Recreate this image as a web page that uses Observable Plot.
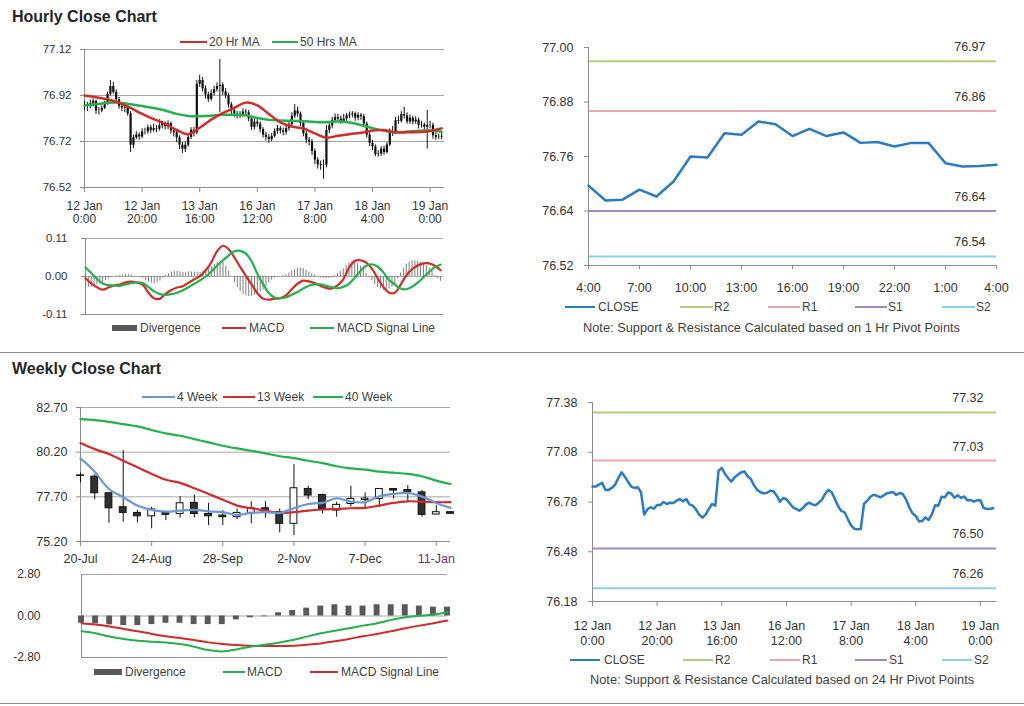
<!DOCTYPE html>
<html><head><meta charset="utf-8">
<script src="https://cdn.jsdelivr.net/npm/d3@7"></script>
<script src="https://cdn.jsdelivr.net/npm/@observablehq/plot@0.6"></script>
<style>
body{margin:0;background:#fff;font-family:'Liberation Sans',Arial,Helvetica,sans-serif;color:#404040}
#page{position:relative;width:1024px;height:706px;overflow:hidden;background:#fff}
.title{position:absolute;font-weight:bold;font-size:16px;line-height:19px;color:#262626;white-space:nowrap}
.sep{position:absolute;left:0;width:1024px;height:1px;background:#8c8c8c}
.leg{position:absolute;font-size:12px;line-height:14px;color:#404040;white-space:nowrap}
.note{position:absolute;font-size:12.8px;line-height:14px;color:#404040;white-space:nowrap}
</style></head><body><div id="page"></div><script>
// ---------------- DATA ----------------
// Hourly series (12 Jan 0:00 .. 19 Jan 4:00), one value per trading hour
const hourlyClose = [
76.873,76.873,76.885,76.895,76.853,76.853,76.865,76.885,76.925,76.959,
76.933,76.901,76.873,76.865,76.869,76.840,76.704,76.736,76.748,76.740,
76.762,76.762,76.780,76.768,76.776,76.774,76.788,76.798,76.784,76.798,
76.766,76.758,76.736,76.704,76.686,76.704,76.738,76.768,76.758,76.969,
76.985,76.949,76.923,76.903,76.929,76.945,76.959,76.965,76.935,76.919,
76.879,76.853,76.839,76.832,76.836,76.848,76.845,76.818,76.782,76.804,
76.796,76.772,76.748,76.738,76.728,76.742,76.764,76.776,76.766,76.760,
76.776,76.794,76.830,76.853,76.839,76.798,76.754,76.726,76.718,76.677,
76.639,76.619,76.615,76.617,76.768,76.788,76.812,76.824,76.818,76.808,
76.818,76.832,76.836,76.840,76.822,76.834,76.828,76.796,76.748,76.712,
76.696,76.663,76.665,76.687,76.672,76.705,76.760,76.758,76.811,76.808,
76.837,76.831,76.805,76.821,76.805,76.813,76.790,76.792,76.782,76.790,
76.790,76.745,76.738,76.739,76.742];
const hourlyHigh = [
76.895,76.890,76.900,76.905,76.900,76.868,76.875,76.895,76.935,76.985,
76.978,76.945,76.912,76.885,76.882,76.885,76.850,76.748,76.762,76.758,
76.775,76.778,76.792,76.790,76.795,76.790,76.815,76.808,76.805,76.810,
76.805,76.775,76.765,76.745,76.715,76.718,76.748,76.780,76.782,76.985,
77.008,76.998,76.962,76.935,76.945,76.960,76.975,77.076,76.975,76.950,
76.930,76.890,76.862,76.850,76.850,76.862,76.860,76.855,76.828,76.818,
76.815,76.805,76.780,76.760,76.750,76.755,76.775,76.790,76.785,76.778,
76.790,76.810,76.845,76.881,76.870,76.848,76.805,76.765,76.738,76.728,
76.688,76.650,76.635,76.640,76.790,76.805,76.825,76.840,76.838,76.830,
76.838,76.842,76.848,76.850,76.848,76.845,76.842,76.838,76.805,76.760,
76.725,76.705,76.680,76.698,76.700,76.715,76.775,76.785,76.825,76.830,
76.850,76.869,76.845,76.835,76.830,76.828,76.822,76.808,76.800,76.855,
76.808,76.800,76.758,76.752,76.755];
const hourlyLow = [
76.855,76.850,76.862,76.870,76.838,76.835,76.845,76.858,76.878,76.918,
76.925,76.890,76.860,76.850,76.845,76.830,76.672,76.690,76.728,76.725,
76.732,76.748,76.752,76.755,76.760,76.758,76.765,76.775,76.770,76.772,
76.752,76.740,76.715,76.685,76.668,76.672,76.695,76.728,76.740,76.750,
76.955,76.935,76.905,76.890,76.895,76.918,76.935,76.845,76.920,76.905,
76.865,76.838,76.825,76.818,76.820,76.825,76.830,76.805,76.768,76.770,
76.782,76.758,76.735,76.722,76.712,76.718,76.735,76.752,76.752,76.745,
76.748,76.765,76.785,76.820,76.825,76.785,76.740,76.710,76.700,76.660,
76.620,76.600,76.595,76.556,76.605,76.755,76.775,76.800,76.802,76.795,
76.798,76.808,76.820,76.822,76.808,76.810,76.812,76.780,76.735,76.698,
76.680,76.655,76.652,76.655,76.660,76.665,76.698,76.742,76.750,76.795,
76.800,76.818,76.795,76.795,76.792,76.795,76.775,76.778,76.770,76.687,
76.775,76.730,76.725,76.728,76.728];
// moving averages read every 4 hours
const ma20H = [76.920,76.912,76.904,76.888,76.866,76.840,76.817,76.798,76.770,76.752,76.780,76.815,76.843,76.866,76.889,76.877,76.840,76.803,76.785,76.777,76.755,76.737,76.745,76.752,76.758,76.768,76.770,76.760,76.760,76.761,76.766,76.777];
const ma50H = [76.877,76.882,76.888,76.889,76.882,76.874,76.866,76.855,76.840,76.831,76.830,76.832,76.836,76.836,76.834,76.822,76.814,76.811,76.810,76.808,76.805,76.804,76.807,76.803,76.792,76.778,76.767,76.760,76.763,76.767,76.768,76.762];
// hourly MACD / signal read every 2 hours, divergence every hour
const macdH = [-0.005,-0.020,-0.031,-0.038,-0.032,-0.026,-0.023,-0.017,-0.015,-0.018,
-0.024,-0.047,-0.064,-0.064,-0.050,-0.039,-0.032,-0.028,-0.018,-0.008,
0.001,0.018,0.042,0.074,0.089,0.079,0.055,0.028,0.002,-0.023,
-0.048,-0.064,-0.067,-0.064,-0.063,-0.055,-0.037,-0.021,-0.012,-0.014,
-0.019,-0.027,-0.033,-0.035,-0.026,-0.008,0.025,0.045,0.047,0.040,
0.023,-0.005,-0.030,-0.047,-0.047,-0.024,0.003,0.021,0.032,0.038,
0.038,0.031,0.018];
const signalH = [0.026,0.010,-0.007,-0.020,-0.025,-0.026,-0.027,-0.023,-0.019,-0.017,
-0.019,-0.031,-0.043,-0.051,-0.053,-0.051,-0.047,-0.040,-0.031,-0.021,
-0.011,0.000,0.015,0.032,0.047,0.061,0.073,0.074,0.066,0.044,
0.008,-0.022,-0.048,-0.061,-0.063,-0.060,-0.053,-0.045,-0.035,-0.027,
-0.023,-0.023,-0.027,-0.031,-0.034,-0.030,-0.021,-0.004,0.016,0.031,
0.035,0.029,0.012,-0.010,-0.023,-0.035,-0.037,-0.030,-0.018,-0.002,
0.013,0.027,0.034];
const divH = [
-0.031,-0.031,-0.030,-0.027,-0.024,-0.021,-0.018,-0.012,-0.007,-0.003,
0.000,0.002,0.004,0.005,0.006,0.005,0.004,0.001,-0.001,-0.003,
-0.005,-0.011,-0.016,-0.019,-0.021,-0.017,-0.013,-0.005,0.003,0.008,
0.012,0.014,0.015,0.013,0.012,0.012,0.013,0.013,0.013,0.012,
0.012,0.015,0.018,0.022,0.027,0.035,0.040,0.042,0.041,0.030,
0.016,0.000,-0.018,-0.032,-0.044,-0.052,-0.056,-0.058,-0.057,-0.054,
-0.050,-0.045,-0.038,-0.029,-0.019,-0.011,-0.004,-0.002,0.000,0.003,
0.005,0.010,0.016,0.020,0.024,0.024,0.023,0.018,0.013,0.008,
0.004,0.000,-0.004,-0.005,-0.006,-0.005,-0.004,0.002,0.008,0.015,
0.022,0.032,0.040,0.043,0.044,0.038,0.030,0.020,0.009,-0.002,
-0.012,-0.023,-0.032,-0.036,-0.040,-0.039,-0.036,-0.031,-0.024,-0.007,
0.010,0.024,0.036,0.042,0.045,0.045,0.044,0.041,0.037,0.032,
0.025,0.015,0.004,-0.006,-0.014];
const hourTickDays = ["12 Jan","12 Jan","13 Jan","16 Jan","17 Jan","18 Jan","19 Jan"];
const hourTickTimes = ["0:00","20:00","16:00","12:00","8:00","4:00","0:00"];
const hourlyYTicks = [76.52, 76.72, 76.92, 77.12];
const macdHYTicks = [-0.11, 0, 0.11];
const lastDayLabels = ["4:00","7:00","10:00","13:00","16:00","19:00","22:00","1:00","4:00"];
const lastDayYTicks = [76.52, 76.64, 76.76, 76.88, 77.00];
const pivotNames = ["R2","R1","S1","S2"];
const hourPivots = [76.97, 76.86, 76.64, 76.54];
const dayPivots = [77.32, 77.03, 76.50, 76.26];
const dayYTicks = [76.18, 76.48, 76.78, 77.08, 77.38];

// Weekly series (20-Jul .. 18-Jan)
const weekLabels = ["20-Jul","24-Aug","28-Sep","2-Nov","7-Dec","11-Jan"];
const weekOpen  = [78.90,78.83,77.90,77.12,76.80,76.61,76.80,76.74,77.36,76.74,76.65,76.56,76.80,77.06,76.84,76.19,78.14,77.80,76.93,77.30,77.52,77.58,78.14,78.08,77.95,76.71,76.84];
const weekHigh  = [79.03,78.94,77.95,80.28,76.93,77.12,76.84,77.71,77.80,77.34,76.93,77.02,77.43,77.43,77.02,79.50,78.29,77.86,77.40,78.29,77.92,78.14,78.16,78.33,78.05,77.21,76.84];
const weekLow   = [78.48,77.54,76.22,76.28,76.24,75.91,76.37,76.50,76.52,76.09,76.09,76.43,76.19,76.50,75.68,75.53,77.54,76.74,76.56,77.12,77.02,77.12,77.58,77.40,76.56,76.69,76.75];
const weekClose = [78.87,77.90,77.06,76.80,76.61,76.99,76.69,77.34,76.74,76.61,76.56,76.80,77.06,76.80,76.19,78.18,77.77,77.02,77.25,77.58,77.60,78.14,78.05,77.95,76.69,76.84,76.75];
const ma4W  = [79.85,79.11,78.14,77.68,77.21,76.97,76.87,76.93,76.97,76.89,76.84,76.69,76.80,76.84,76.80,77.06,77.30,77.36,77.62,77.43,77.40,77.73,77.86,77.92,77.71,77.36,77.08];
const ma13W = [80.71,80.37,80.10,79.72,79.35,78.98,78.66,78.48,78.18,77.86,77.54,77.21,77.06,76.93,76.80,76.84,76.93,76.99,77.02,77.06,77.08,77.21,77.36,77.45,77.43,77.40,77.40];
const ma40W = [82.05,81.99,81.90,81.77,81.64,81.44,81.25,81.12,80.93,80.75,80.56,80.41,80.28,80.13,79.97,79.87,79.72,79.59,79.41,79.29,79.22,79.11,79.05,78.98,78.85,78.61,78.42];
const macdW   = [-1.03,-1.17,-1.39,-1.55,-1.67,-1.73,-1.78,-1.89,-2.07,-2.30,-2.39,-2.26,-2.07,-1.94,-1.80,-1.62,-1.39,-1.17,-0.99,-0.83,-0.65,-0.49,-0.26,-0.08,0.01,0.10,0.26];
const signalW = [-0.49,-0.58,-0.71,-0.87,-1.03,-1.21,-1.37,-1.48,-1.62,-1.78,-1.89,-1.96,-2.01,-2.03,-2.03,-2.01,-1.94,-1.85,-1.71,-1.55,-1.37,-1.21,-1.03,-0.83,-0.65,-0.49,-0.31];
const divW    = [-0.49,-0.53,-0.60,-0.65,-0.65,-0.58,-0.49,-0.49,-0.58,-0.58,-0.58,-0.26,-0.12,-0.05,0.22,0.37,0.53,0.67,0.76,0.67,0.67,0.76,0.76,0.76,0.67,0.60,0.60];
const weeklyYTicks = [75.20, 77.70, 80.20, 82.70];
const macdWYTicks = [-2.80, 0, 2.80];

// ---------------- STYLE ----------------
const page = document.getElementById("page");
const FONT = "'Liberation Sans', Arial, Helvetica, sans-serif";
const AXIS = "#8c8c8c", GRID = "#a6a6a6", TXT = "#333333";
const RED = "#d22b2b", GREEN = "#23b14d", BLUE_MA = "#6b98d4", CLOSE_BLUE = "#2a7bc3";
const pivotColors = ["#b2cb7c", "#e8a9ae", "#a08ac6", "#8dd0ea"];
const style = () => ({fontFamily: FONT, fontSize: "12px", color: TXT, background: "transparent", overflow: "visible"});
function put(node, left, top) { node.style.position = "absolute"; node.style.left = left + "px"; node.style.top = top + "px"; page.appendChild(node); return node; }
function div(cls, text, left, top) { const d = document.createElement("div"); d.className = cls; d.textContent = text; return put(d, left, top); }
function swatch(x1, x2, y, color, thick) { const d = document.createElement("div"); d.style.cssText = `width:${x2 - x1}px;height:${thick}px;background:${color}`; put(d, x1, y - thick / 2); }
function legend(items, y) { for (const [x1, x2, color, label, tx, thick] of items) { swatch(x1, x2, y, color, thick || 2); div("leg", label, tx, y - 7); } }
const f2 = d => d.toFixed(2);

// titles and separators
div("title", "Hourly Close Chart", 12, 7);
div("title", "Weekly Close Chart", 12, 359);
put(Object.assign(document.createElement("div"), {className: "sep"}), 0, 352);
put(Object.assign(document.createElement("div"), {className: "sep"}), 0, 703);

// ---------------- PANEL A: hourly candles ----------------
const hourRows = hourlyClose.map((c, i) => ({i, close: c, open: i > 0 ? hourlyClose[i - 1] : c, high: hourlyHigh[i], low: hourlyLow[i]}));
const maIdx = d3.range(0, 125, 4);
const ma20Rows = ma20H.map((v, j) => ({i: maIdx[j], v}));
const ma50Rows = ma50H.map((v, j) => ({i: maIdx[j], v}));
const hourTickIdx = hourTickDays.map((_, j) => j * 20);
const hourFmt = d => hourTickDays[d / 20] + "\n" + hourTickTimes[d / 20];

put(Plot.plot({
  width: 460, height: 200, marginLeft: 84, marginRight: 16, marginTop: 19, marginBottom: 43,
  style: style(),
  x: {domain: [0, 125], label: null},
  y: {domain: [76.52, 77.12], label: null},
  marks: [
    Plot.ruleY(hourlyYTicks.slice(1), {stroke: GRID}),
    Plot.ruleY([76.52], {stroke: AXIS}),
    Plot.ruleX([0], {stroke: AXIS}),
    Plot.ruleX(hourRows, {x: "i", y1: "low", y2: "high", stroke: "#111", strokeWidth: 1}),
    Plot.ruleX(hourRows, {x: "i", y1: "open", y2: "close", stroke: "#111", strokeWidth: 2.2}),
    Plot.line(ma50Rows, {x: "i", y: "v", stroke: GREEN, strokeWidth: 2.5, curve: "catmull-rom"}),
    Plot.line(ma20Rows, {x: "i", y: "v", stroke: RED, strokeWidth: 2.5, curve: "catmull-rom"}),
    Plot.axisY(hourlyYTicks, {tickSize: 4, tickPadding: 9, tickFormat: f2, stroke: AXIS, fill: TXT, fontSize: 11.5, label: null}),
    Plot.axisX(hourTickIdx, {tickSize: 5, tickPadding: 8, tickFormat: hourFmt, lineHeight: 1.08, stroke: AXIS, fill: TXT, fontSize: 12, label: null})
  ]
}), 0, 30);
legend([[180, 207, RED, "20 Hr MA", 209], [272, 298, GREEN, "50 Hrs MA", 300]], 42);

// ---------------- PANEL B: hourly MACD ----------------
const mIdx = d3.range(0, 125, 2);
const macdHRows = macdH.map((v, j) => ({i: mIdx[j], v}));
const signalHRows = signalH.map((v, j) => ({i: mIdx[j], v}));
const divHRows = divH.map((v, i) => ({i, v}));
put(Plot.plot({
  width: 460, height: 96, marginLeft: 85, marginRight: 17, marginTop: 10, marginBottom: 10,
  style: style(),
  x: {domain: [0, 125], axis: null, label: null},
  y: {domain: [-0.11, 0.11], label: null},
  marks: [
    Plot.ruleY([0.11], {stroke: GRID}),
    Plot.ruleY([0], {stroke: GRID}),
    Plot.ruleY([-0.11], {stroke: AXIS}),
    Plot.ruleX([0], {stroke: AXIS}),
    Plot.ruleX(divHRows, {x: "i", y1: () => 0, y2: "v", stroke: "#7a7a7a", strokeWidth: 1}),
    Plot.line(macdHRows, {x: "i", y: "v", stroke: RED, strokeWidth: 2.2, curve: "catmull-rom"}),
    Plot.line(signalHRows, {x: "i", y: "v", stroke: GREEN, strokeWidth: 2.2, curve: "catmull-rom"}),
    Plot.axisY(macdHYTicks, {tickSize: 4, tickPadding: 14, tickFormat: f2, stroke: AXIS, fill: TXT, fontSize: 11.5, label: null})
  ]
}), 0, 228);
legend([[112, 137, "#595959", "Divergence", 140, 6], [222, 246, RED, "MACD", 249], [310, 334, GREEN, "MACD Signal Line", 337]], 328);

// ---------------- PANEL C: last 25 hours with 1 Hr pivots ----------------
const lastDayRows = hourlyClose.slice(100).map((v, i) => ({i, v}));
const lastDayTicks = lastDayLabels.map((_, j) => j * 3);
put(Plot.plot({
  width: 500, height: 270, marginLeft: 68, marginRight: 24, marginTop: 17, marginBottom: 35,
  style: style(),
  x: {domain: [0, 24], label: null},
  y: {domain: [76.52, 77.00], label: null},
  marks: [
    ...hourPivots.map((p, j) => Plot.ruleY([p], {stroke: pivotColors[j], strokeWidth: 2})),
    Plot.ruleX([0], {stroke: AXIS}),
    Plot.ruleY([76.52], {stroke: AXIS}),
    Plot.line(lastDayRows, {x: "i", y: "v", stroke: CLOSE_BLUE, strokeWidth: 2.5}),
    Plot.text(hourPivots, {y: d => d, text: f2, frameAnchor: "right", textAnchor: "end", dx: -11, dy: -14, fill: TXT, fontSize: 12.5}),
    Plot.axisY(lastDayYTicks, {tickSize: 4, tickPadding: 11, tickFormat: f2, stroke: AXIS, fill: TXT, fontSize: 12.5, label: null}),
    Plot.axisX(lastDayTicks, {tickSize: 4, tickPadding: 14, tickFormat: d => lastDayLabels[d / 3], stroke: AXIS, fill: TXT, fontSize: 12.5, label: null})
  ]
}), 520, 30);
legend([[565, 595, CLOSE_BLUE, "CLOSE", 598], [680, 713, pivotColors[0], pivotNames[0], 714], [768, 800, pivotColors[1], pivotNames[1], 802],
        [855, 887, pivotColors[2], pivotNames[2], 888], [942, 975, pivotColors[3], pivotNames[3], 976]], 307);
div("note", "Note: Support & Resistance Calculated based on 1 Hr Pivot Points", 583, 321);

// ---------------- PANEL D: weekly candles ----------------
const weekRows = weekClose.map((c, k) => ({k, open: weekOpen[k], close: c, high: weekHigh[k], low: weekLow[k], up: c >= weekOpen[k]}));
const wk = arr => arr.map((v, k) => ({k, v}));
const weekTicks = weekLabels.map((_, j) => j * 5);
put(Plot.plot({
  width: 460, height: 180, marginLeft: 80, marginRight: 10, marginTop: 22, marginBottom: 24,
  style: style(),
  x: {domain: [0, 26], label: null},
  y: {domain: [75.2, 82.7], label: null},
  marks: [
    Plot.ruleY(weeklyYTicks.slice(1), {stroke: GRID}),
    Plot.ruleY([75.2], {stroke: AXIS}),
    Plot.ruleX([0], {stroke: AXIS}),
    Plot.ruleX(weekRows, {x: "k", y1: "low", y2: "high", stroke: "#111", strokeWidth: 1}),
    Plot.rect(weekRows, {x1: d => d.k - 0.24, x2: d => d.k + 0.24, y1: "open", y2: "close", fill: d => d.up ? "#ffffff" : "#303030", stroke: "#111", strokeWidth: 1}),
    Plot.line(wk(ma40W), {x: "k", y: "v", stroke: GREEN, strokeWidth: 2.2, curve: "catmull-rom"}),
    Plot.line(wk(ma13W), {x: "k", y: "v", stroke: RED, strokeWidth: 2.2, curve: "catmull-rom"}),
    Plot.line(wk(ma4W), {x: "k", y: "v", stroke: BLUE_MA, strokeWidth: 2.2, curve: "catmull-rom"}),
    Plot.axisY(weeklyYTicks, {tickSize: 4, tickPadding: 9, tickFormat: f2, stroke: AXIS, fill: TXT, fontSize: 12.5, label: null}),
    Plot.axisX(weekTicks.slice(0, 5), {tickSize: 5, tickPadding: 8, tickFormat: d => weekLabels[d / 5], stroke: AXIS, fill: TXT, fontSize: 12.5, label: null}),
    Plot.axisX(weekTicks.slice(5), {tickSize: 5, tickPadding: 8, tickFormat: d => weekLabels[d / 5], stroke: AXIS, fill: "#6e2f6c", fontSize: 12.5, label: null})
  ]
}), 0, 385);
legend([[142, 175, BLUE_MA, "4 Week", 177], [223, 255, RED, "13 Week", 257], [313, 343, GREEN, "40 Week", 345]], 397);

// ---------------- PANEL E: weekly MACD ----------------
put(Plot.plot({
  width: 460, height: 96, marginLeft: 81, marginRight: 13, marginTop: 8, marginBottom: 5,
  style: style(),
  x: {domain: [0, 26], axis: null, label: null},
  y: {domain: [-2.8, 2.8], label: null},
  marks: [
    Plot.ruleY([2.8], {stroke: GRID}),
    Plot.ruleY([0], {stroke: GRID}),
    Plot.ruleY([-2.8], {stroke: AXIS}),
    Plot.ruleX([0], {stroke: AXIS}),
    Plot.rect(wk(divW), {x1: d => d.k - 0.21, x2: d => d.k + 0.21, y1: () => 0, y2: "v", fill: "#595959"}),
    Plot.line(wk(signalW), {x: "k", y: "v", stroke: RED, strokeWidth: 2, curve: "catmull-rom"}),
    Plot.line(wk(macdW), {x: "k", y: "v", stroke: GREEN, strokeWidth: 2, curve: "catmull-rom"}),
    Plot.axisY(macdWYTicks, {tickSize: 0, tickPadding: 41, tickFormat: f2, stroke: AXIS, fill: TXT, fontSize: 12, label: null})
  ]
}), 0, 566);
legend([[94, 122, "#595959", "Divergence", 125, 6], [223, 245, GREEN, "MACD", 247], [310, 338, RED, "MACD Signal Line", 341]], 672);

// ---------------- PANEL F: hourly close with 24 Hr pivots ----------------
const allHourRows = hourlyClose.map((v, i) => ({i, v}));
put(Plot.plot({
  width: 500, height: 270, marginLeft: 72, marginRight: 24, marginTop: 22, marginBottom: 49,
  style: style(),
  x: {domain: [0, 125], label: null},
  y: {domain: [76.18, 77.38], label: null},
  marks: [
    ...dayPivots.map((p, j) => Plot.ruleY([p], {stroke: pivotColors[j], strokeWidth: 2})),
    Plot.ruleX([0], {stroke: AXIS}),
    Plot.ruleY([76.18], {stroke: AXIS}),
    Plot.line(allHourRows, {x: "i", y: "v", stroke: CLOSE_BLUE, strokeWidth: 2.5}),
    Plot.text(dayPivots, {y: d => d, text: f2, frameAnchor: "right", textAnchor: "end", dx: -13, dy: -14, fill: TXT, fontSize: 12.5}),
    Plot.axisY(dayYTicks, {tickSize: 4, tickPadding: 11, tickFormat: f2, stroke: AXIS, fill: TXT, fontSize: 12.5, label: null}),
    Plot.axisX(hourTickIdx, {tickSize: 5, tickPadding: 12, tickFormat: hourFmt, lineHeight: 1.25, stroke: AXIS, fill: TXT, fontSize: 12.5, label: null})
  ]
}), 520, 380);
legend([[570, 600, CLOSE_BLUE, "CLOSE", 604], [683, 713, pivotColors[0], pivotNames[0], 715], [770, 800, pivotColors[1], pivotNames[1], 802],
        [855, 887, pivotColors[2], pivotNames[2], 889], [942, 972, pivotColors[3], pivotNames[3], 974]], 660);
div("note", "Note: Support & Resistance Calculated based on 24 Hr Pivot Points", 590, 673);
</script></body></html>
